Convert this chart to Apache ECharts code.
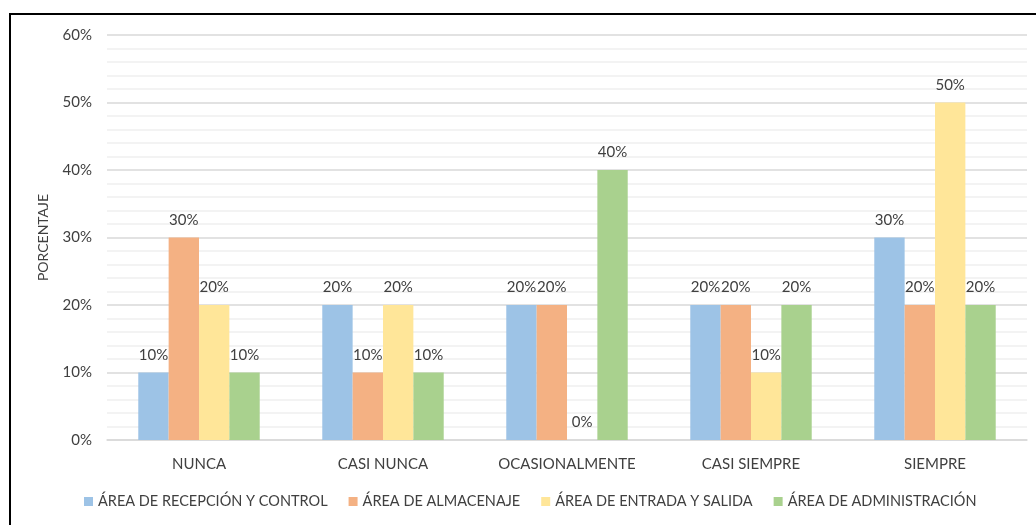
<!DOCTYPE html>
<html>
<head>
<meta charset="utf-8">
<script src="https://cdn.jsdelivr.net/npm/echarts@6/dist/echarts.min.js"></script>
<style>
  html, body { margin: 0; padding: 0; background: #fff; }
  #chart { width: 1036px; height: 525px; }
</style>
</head>
<body>
<div id="chart"></div>
<script>
const categories = ['NUNCA', 'CASI NUNCA', 'OCASIONALMENTE', 'CASI SIEMPRE', 'SIEMPRE'];
const seriesNames = [
  'ÁREA DE RECEPCIÓN Y CONTROL',
  'ÁREA DE ALMACENAJE',
  'ÁREA DE ENTRADA Y SALIDA',
  'ÁREA DE ADMINISTRACIÓN'
];
const recepcion = [10, 20, 20, 20, 30];
const almacenaje = [30, 10, 20, 20, 20];
const entrada = [20, 20, 0, 10, 50];
const administracion = [10, 10, 40, 20, 20];
const colors = ['#9dc3e6', '#f4b183', '#ffe699', '#a9d18e'];

const values = [recepcion, almacenaje, entrada, administracion];
const font = 'Lato, "Open Sans", sans-serif';
const textColor = '#404040';

const chart = echarts.init(document.getElementById('chart'));
chart.setOption({
  animation: false,
  textStyle: { fontFamily: font },
  grid: { left: 107, right: 9, top: 35, bottom: 85 },
  legend: {
    bottom: 11,
    left: 79,
    icon: 'rect',
    itemWidth: 9,
    itemHeight: 9,
    itemGap: 21,
    textStyle: { fontSize: 14.5, color: textColor, fontFamily: font }
  },
  xAxis: {
    type: 'category',
    data: categories,
    axisLine: { lineStyle: { color: '#d9d9d9', width: 1.5 } },
    axisTick: { show: false },
    axisLabel: { fontSize: 15, color: textColor, margin: 17, fontFamily: font }
  },
  yAxis: {
    type: 'value',
    min: 0,
    max: 60,
    interval: 10,
    name: 'PORCENTAJE',
    nameLocation: 'middle',
    nameGap: 57,
    nameTextStyle: { fontSize: 14, color: textColor, fontFamily: font },
    axisLine: { show: false },
    axisTick: { show: false },
    axisLabel: { formatter: '{value}%', fontSize: 15, color: textColor, margin: 15, fontFamily: font },
    splitLine: { lineStyle: { color: '#d9d9d9', width: 1.5 } },
    minorTick: { show: false, splitNumber: 5 },
    minorSplitLine: { show: true, lineStyle: { color: '#f0f0f0', width: 1.5 } }
  },
  series: seriesNames.map((name, i) => ({
    name,
    type: 'bar',
    data: values[i],
    barGap: '0%',
    barCategoryGap: '34%',
    itemStyle: { color: colors[i] },
    label: {
      show: true,
      position: 'top',
      distance: 10,
      formatter: '{c}%',
      fontSize: 15,
      color: textColor,
      fontFamily: font
    }
  })),
  graphic: [
    { type: 'line', shape: { x1: 10, y1: 14, x2: 1036, y2: 14 }, style: { stroke: '#000', lineWidth: 2 } },
    { type: 'line', shape: { x1: 10, y1: 13, x2: 10, y2: 525 }, style: { stroke: '#000', lineWidth: 2 } }
  ]
});
</script>
</body>
</html>
